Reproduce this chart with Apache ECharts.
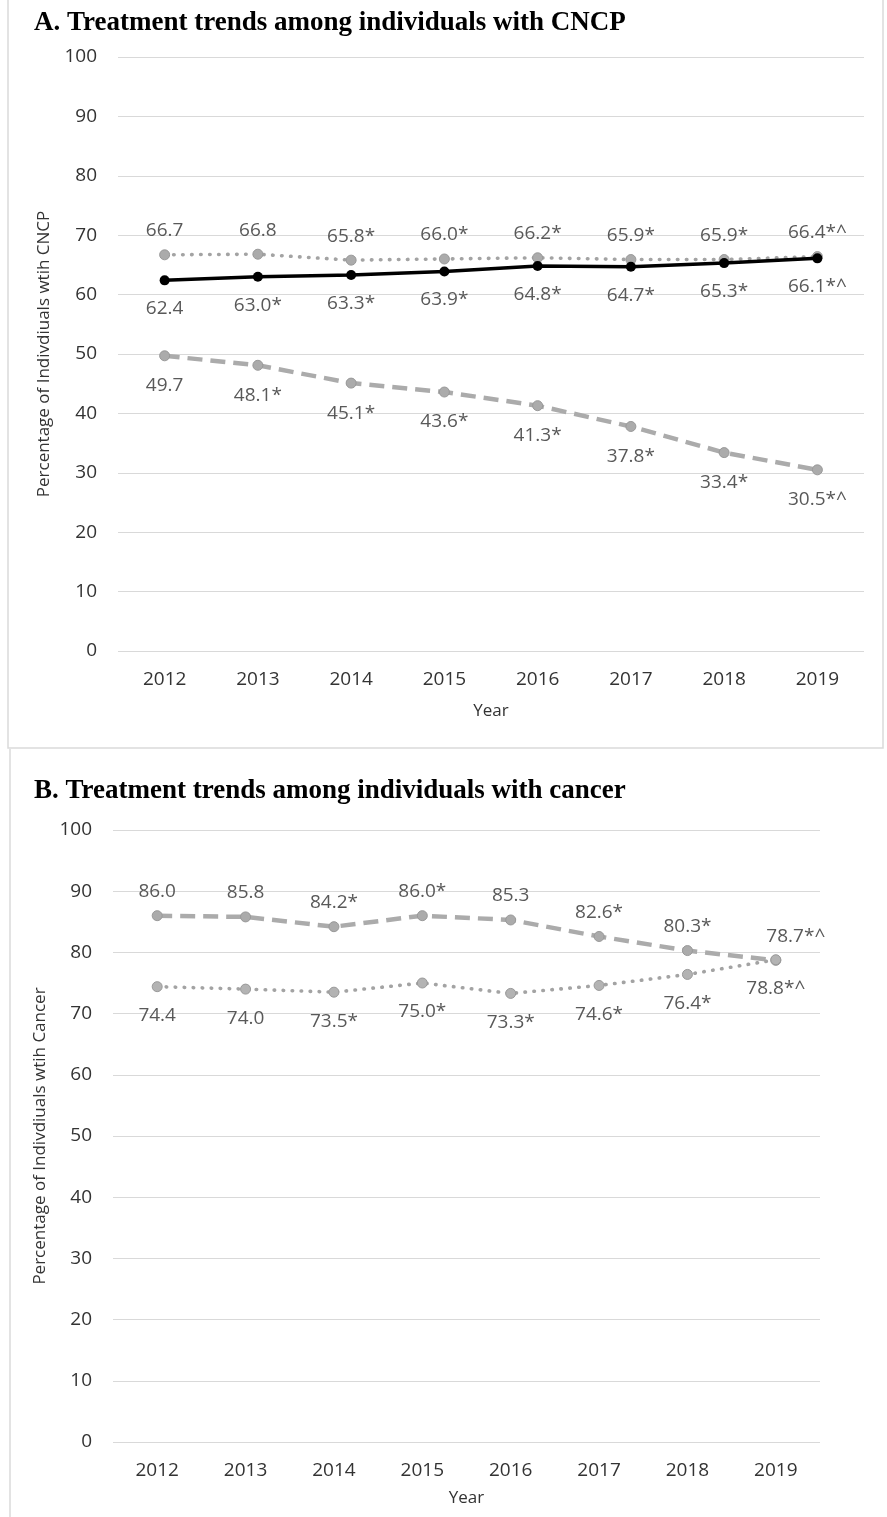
<!DOCTYPE html>
<html>
<head>
<meta charset="utf-8">
<script src="https://cdn.jsdelivr.net/npm/echarts@6/dist/echarts.min.js"></script>
<style>
html,body{margin:0;padding:0;background:#fff;}
#chart{width:887px;height:1517px;}
</style>
</head>
<body>
<div id="chart"></div>
<script>
const years = ['2012','2013','2014','2015','2016','2017','2018','2019'];
const yTicks = [0,10,20,30,40,50,60,70,80,90,100];

const cncpDotted = [66.7,66.8,65.8,66.0,66.2,65.9,65.9,66.4];
const cncpDottedLabels = ['66.7','66.8','65.8*','66.0*','66.2*','65.9*','65.9*','66.4*^'];
const cncpSolid = [62.4,63.0,63.3,63.9,64.8,64.7,65.3,66.1];
const cncpSolidLabels = ['62.4','63.0*','63.3*','63.9*','64.8*','64.7*','65.3*','66.1*^'];
const cncpDashed = [49.7,48.1,45.1,43.6,41.3,37.8,33.4,30.5];
const cncpDashedLabels = ['49.7','48.1*','45.1*','43.6*','41.3*','37.8*','33.4*','30.5*^'];

const cancerDashed = [86.0,85.8,84.2,86.0,85.3,82.6,80.3,78.7];
const cancerDashedLabels = ['86.0','85.8','84.2*','86.0*','85.3','82.6*','80.3*','78.7*^'];
const cancerDotted = [74.4,74.0,73.5,75.0,73.3,74.6,76.4,78.8];
const cancerDottedLabels = ['74.4','74.0','73.5*','75.0*','73.3*','74.6*','76.4*','78.8*^'];

const FONT = 'Open Sans';
const TICK_COLOR = '#333333';
const LABEL_COLOR = '#595959';
const GRID_COLOR = '#D9D9D9';

function xAxis(gridIndex, gap) {
  return {
    type: 'category', gridIndex: gridIndex, data: years, boundaryGap: true,
    axisLine: {show: false}, axisTick: {show: false},
    axisLabel: {fontFamily: FONT, fontSize: 19, color: TICK_COLOR, margin: 19},
    name: 'Year', nameLocation: 'middle', nameGap: gap,
    nameTextStyle: {fontFamily: FONT, fontSize: 17, color: TICK_COLOR}
  };
}
function yAxis(gridIndex, name, gap) {
  return {
    type: 'value', gridIndex: gridIndex, min: yTicks[0], max: yTicks[yTicks.length-1], interval: 10,
    axisLine: {show: false}, axisTick: {show: false},
    splitLine: {show: true, lineStyle: {color: GRID_COLOR, width: 1.2}},
    axisLabel: {fontFamily: FONT, fontSize: 19, color: TICK_COLOR, margin: 21},
    name: name, nameLocation: 'middle', nameGap: gap, nameRotate: 90,
    nameTextStyle: {fontFamily: FONT, fontSize: 17, color: TICK_COLOR}
  };
}
function labelFrom(arr, pos, dist) {
  return {
    show: true, position: pos, distance: dist,
    fontFamily: FONT, fontSize: 19, color: LABEL_COLOR,
    formatter: p => arr[p.dataIndex]
  };
}
const dottedStyle = {color: '#A3A3A3', width: 3.6, type: [0.5, 8.5], cap: 'round'};
const dashedStyle = {color: '#ABABAB', width: 4.5, type: [15, 8], cap: 'butt'};
const grayItem = {color: '#ABABAB', borderColor: '#999999', borderWidth: 1};

const option = {
  animation: false,
  backgroundColor: '#fff',
  title: [
    {text: 'A. Treatment trends among individuals with CNCP', left: 29, top: 5,
     textStyle: {fontFamily: 'Liberation Serif', fontWeight: 'bold', fontSize: 27, color: '#000'}},
    {text: 'B. Treatment trends among individuals with cancer', left: 29, top: 773,
     textStyle: {fontFamily: 'Liberation Serif', fontWeight: 'bold', fontSize: 27, color: '#000'}}
  ],
  graphic: [
    {type: 'rect', shape: {x: 8, y: -2, width: 875, height: 750}, style: {fill: 'none', stroke: '#DADADA', lineWidth: 1.5}, silent: true},
    {type: 'line', shape: {x1: 10, y1: 749, x2: 10, y2: 1520}, style: {stroke: '#DADADA', lineWidth: 1.5}, silent: true}
  ],
  grid: [
    {left: 118, top: 57, width: 746, height: 594},
    {left: 113, top: 830, width: 707, height: 612}
  ],
  xAxis: [xAxis(0, 52), xAxis(1, 48)],
  yAxis: [yAxis(0, 'Percentage of Indivdiuals wtih CNCP', 65), yAxis(1, 'Percentage of Indivdiuals wtih Cancer', 60)],
  series: [
    {type: 'line', xAxisIndex: 0, yAxisIndex: 0, data: cncpDotted, symbol: 'circle', symbolSize: 10,
     lineStyle: dottedStyle, itemStyle: grayItem, label: labelFrom(cncpDottedLabels, 'top', 9), z: 2},
    {type: 'line', xAxisIndex: 0, yAxisIndex: 0, data: cncpDashed, symbol: 'circle', symbolSize: 10,
     lineStyle: dashedStyle, itemStyle: grayItem, label: labelFrom(cncpDashedLabels, 'bottom', 15), z: 2},
    {type: 'line', xAxisIndex: 0, yAxisIndex: 0, data: cncpSolid, symbol: 'circle', symbolSize: 10,
     lineStyle: {color: '#000', width: 3.5}, itemStyle: {color: '#000'}, label: labelFrom(cncpSolidLabels, 'bottom', 14), z: 3},
    {type: 'line', xAxisIndex: 1, yAxisIndex: 1,
     data: cancerDashed.map((v, i) => i === cancerDashed.length - 1 ? {value: v, label: {offset: [20, 0]}} : v),
     symbol: 'circle', symbolSize: 10,
     lineStyle: dashedStyle, itemStyle: grayItem, label: labelFrom(cancerDashedLabels, 'top', 9), z: 2},
    {type: 'line', xAxisIndex: 1, yAxisIndex: 1, data: cancerDotted, symbol: 'circle', symbolSize: 10,
     lineStyle: dottedStyle, itemStyle: {color: '#B3B3B3', borderColor: '#999999', borderWidth: 1},
     label: labelFrom(cancerDottedLabels, 'bottom', 14), z: 3}
  ]
};
const chart = echarts.init(document.getElementById('chart'), null, {renderer: 'canvas'});
chart.setOption(option);
</script>
</body>
</html>
